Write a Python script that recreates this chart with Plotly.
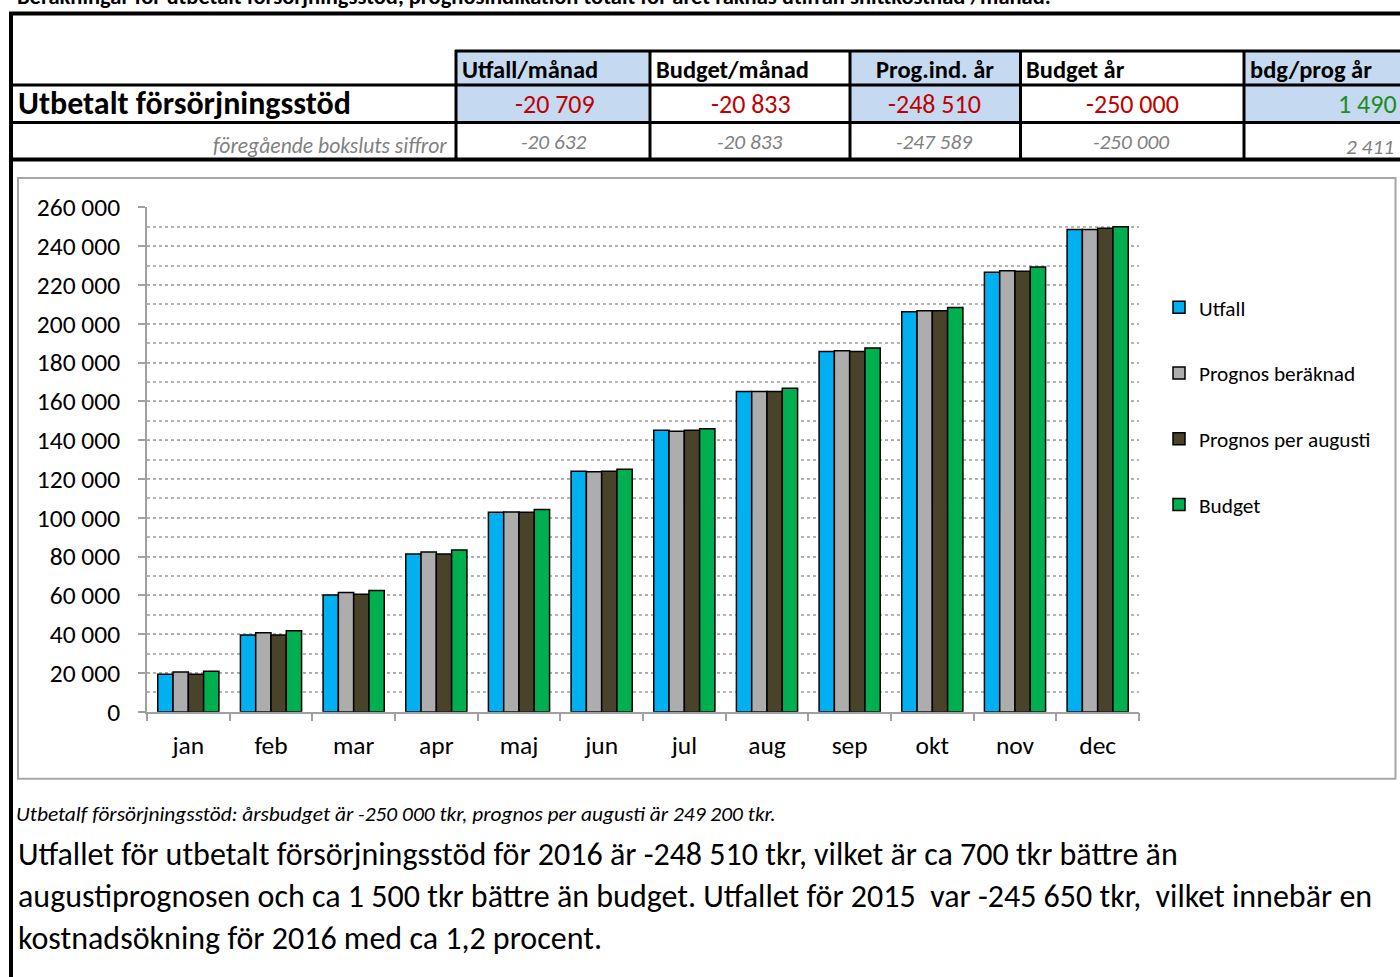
import plotly.graph_objects as go

W, H = 1400, 977
FONT = "Carlito, Lato, sans-serif"

# ---------------- data ----------------
months = ["jan", "feb", "mar", "apr", "maj", "jun", "jul", "aug", "sep", "okt", "nov", "dec"]
utfall = [19300, 39500, 60200, 81300, 102800, 123900, 145100, 165100, 185700, 206200, 226500, 248510]
prognos_beraknad = [20400, 40700, 61500, 82300, 103000, 123700, 144600, 165100, 186000, 206700, 227300, 248510]
prognos_augusti = [19300, 39500, 60500, 81300, 102800, 123900, 145100, 165100, 185700, 206700, 227000, 249200]
budget = [20833, 41667, 62500, 83333, 104167, 125000, 145833, 166667, 187500, 208333, 229167, 250000]

series_names = ["Utfall", "Prognos beräknad", "Prognos per augusti", "Budget"]
series_colors = ["#00B0F0", "#ADADAD", "#494429", "#00B050"]

y_tickvals = list(range(0, 260001, 20000))
y_ticktext = ["0", "20 000", "40 000", "60 000", "80 000", "100 000", "120 000", "140 000",
              "160 000", "180 000", "200 000", "220 000", "240 000", "260 000"]

title_text = "Beräkningar för utbetalt försörjningsstöd, prognosindikation totalt för året räknas utifrån snittkostnad /månad."
row_label = "Utbetalt försörjningsstöd"
prev_label = "föregående boksluts siffror"
table_headers = ["Utfall/månad", "Budget/månad", "Prog.ind. år", "Budget år", "bdg/prog år"]
table_values = ["-20 709", "-20 833", "-248 510", "-250 000", "1 490"]
table_prev = ["-20 632", "-20 833", "-247 589", "-250 000", "2 411"]

note_small = "Utbetalf försörjningsstöd: årsbudget är -250 000 tkr, prognos per augusti är 249 200 tkr."
note_lines = [
    "Utfallet för utbetalt försörjningsstöd för 2016 är -248 510 tkr, vilket är ca 700 tkr bättre än",
    "augustiprognosen och ca 1 500 tkr bättre än budget. Utfallet för 2015 \u00a0var -245 650 tkr, \u00a0vilket innebär en",
    "kostnadsökning för 2016 med ca 1,2 procent.",
]


def px(x):
    return x / W


def py(y):
    return 1 - y / H


fig = go.Figure()
series_values = [utfall, prognos_beraknad, prognos_augusti, budget]
for i, (name, vals, col) in enumerate(zip(series_names, series_values, series_colors)):
    fig.add_trace(go.Bar(
        x=months, y=vals, name=name, legendgroup=name,
        marker=dict(color=col, line=dict(color="#000000", width=1.5)),
    ))

shapes = []
cols_x = [456, 650, 850, 1020.5, 1244, 1402]
blue = "#C5D9F1"
for i in (0, 2, 4):
    shapes.append(dict(type="rect", xref="paper", yref="paper",
                       x0=px(cols_x[i]), x1=px(cols_x[i + 1]), y0=py(122), y1=py(51),
                       fillcolor=blue, line=dict(width=0), layer="below"))


def hline(y, x0, x1, w, color="#000000"):
    shapes.append(dict(type="line", xref="paper", yref="paper", x0=px(x0), x1=px(x1),
                       y0=py(y), y1=py(y), line=dict(color=color, width=w)))


def vline(x, y0, y1, w, color="#000000"):
    shapes.append(dict(type="line", xref="paper", yref="paper", x0=px(x), x1=px(x),
                       y0=py(y0), y1=py(y1), line=dict(color=color, width=w)))


hline(13.5, 9, 1402, 4)
vline(11, 12, 980, 4)
hline(51, 455, 1402, 3)
hline(85, 9, 1402, 3)
hline(122.5, 9, 1402, 3)
hline(159.5, 9, 1402, 4)
for x in cols_x[:-1]:
    vline(x, 50, 161, 3)

shapes.append(dict(type="rect", xref="paper", yref="paper", x0=px(18), x1=px(1395.5),
                   y0=py(778.7), y1=py(178), line=dict(color="#A6A6A6", width=2)))

ann = []


def add_text(text, x, y, xa, size, color="#000000", ya="middle"):
    ann.append(dict(text=text, x=px(x), y=py(y), xref="paper", yref="paper",
                    xanchor=xa, yanchor=ya, font=dict(size=size, color=color),
                    showarrow=False))


add_text("<b>" + title_text + "</b>", 15, 12, "left", 22.5, ya="bottom")
add_text("<b>" + row_label + "</b>", 16, 104, "left", 32)
add_text("<i>" + prev_label + "</i>", 449, 146, "right", 21.6, "#808080")

hdr_pos = [("left", 460), ("left", 654), ("center", 935), ("left", 1024), ("left", 1248)]
val_pos = [("center", 555), ("center", 751), ("center", 935), ("center", 1132), ("right", 1399)]
for i in range(5):
    a, x = hdr_pos[i]
    add_text("<b>" + table_headers[i] + "</b>", x, 70, a, 24.5)
    a, x = val_pos[i]
    col = "#1E8C1E" if i == 4 else "#C00000"
    add_text(table_values[i], x, 104, a, 26, col)
    yy = 147 if i == 4 else 142
    add_text("<i>" + table_prev[i] + "</i>", x - (3 if i == 4 else 1), yy, a, 21.3, "#808080")

add_text("<i>" + note_small + "</i>", 14, 814, "left", 21.4)
for i, line in enumerate(note_lines):
    add_text(line, 16, 854 + 42 * i, "left", 32)

fig.update_layout(
    template="none",
    width=W, height=H, autosize=False,
    margin=dict(l=0, r=0, t=0, b=0, pad=0),
    paper_bgcolor="#FFFFFF", plot_bgcolor="#FFFFFF",
    font=dict(family=FONT, color="#000000"),
    barmode="group", bargap=0.26, bargroupgap=0,
    shapes=shapes, annotations=ann,
    legend=dict(x=px(1159), y=py(287), xanchor="left", yanchor="top",
                font=dict(size=21.3, color="#000"), tracegroupgap=35,
                bgcolor="rgba(0,0,0,0)", itemwidth=30),
    xaxis=dict(domain=[px(147), px(1139)], type="category", automargin=False,
               showline=True, linecolor="#A0A0A0", linewidth=1.5,
               ticks="outside", tickson="boundaries", ticklen=8, tickcolor="#A0A0A0", tickwidth=1.5,
               tickfont=dict(size=25.5, color="#000"), ticklabelstandoff=10, showgrid=False),
    yaxis=dict(domain=[py(711.7), py(207.3)], range=[0, 260000], automargin=False,
               tickvals=y_tickvals, ticktext=y_ticktext,
               showline=True, linecolor="#A0A0A0", linewidth=1.5,
               ticks="outside", ticklen=7, tickcolor="#A0A0A0", tickwidth=1.5,
               tickfont=dict(size=25.5, color="#000"), ticklabelstandoff=13,
               showgrid=True, gridcolor="#A8A8A8", gridwidth=1, griddash="dot",
               minor=dict(dtick=10000, tick0=0, showgrid=True, gridcolor="#B5B5B5", gridwidth=1.5, ticks=""),
               zeroline=False),
)

fig.write_html("out.html", config={"displayModeBar": False},
               post_script="document.body.style.margin='0';document.body.style.overflow='hidden';")
